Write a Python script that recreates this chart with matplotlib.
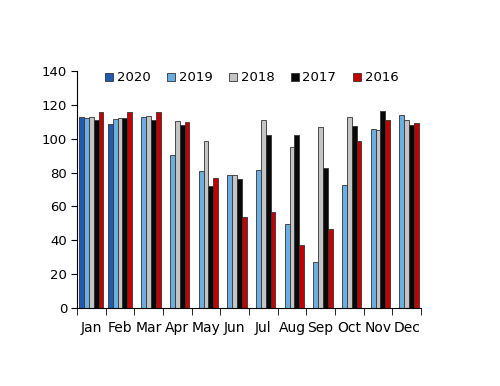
import matplotlib
matplotlib.use('Agg')
import matplotlib.pyplot as plt
import numpy as np

months = ['Jan', 'Feb', 'Mar', 'Apr', 'May', 'Jun', 'Jul', 'Aug', 'Sep', 'Oct', 'Nov', 'Dec']
years = ['2020', '2019', '2018', '2017', '2016']

v2020 = [113, 109, np.nan, np.nan, np.nan, np.nan, np.nan, np.nan, np.nan, np.nan, np.nan, np.nan]
v2019 = [112.4, 111.8, 113, 90.4, 81.2, 78.8, 81.8, 49.8, 27.2, 72.5, 105.8, 114.3]
v2018 = [113.1, 112.2, 113.4, 110.2, 98.9, 78.8, 111.2, 95.4, 107.2, 113, 105.2, 110.8]
v2017 = [111, 112.2, 111, 108.4, 71.9, 76, 102.1, 102.1, 82.5, 107.4, 116.1, 108.4]
v2016 = [115.5, 115.7, 115.7, 110, 76.8, 53.9, 56.9, 37.1, 46.4, 98.5, 111, 109.4]

series = [v2020, v2019, v2018, v2017, v2016]
colors = ['#1f5cb0', '#6aaee2', '#c4c4c4', '#080808', '#c40000']

plt.rcParams['font.family'] = 'DejaVu Sans'

fig = plt.figure(figsize=(5, 3.86), dpi=100)
ax = fig.add_axes([0.154, 0.202, 0.688, 0.614])

x = np.arange(len(months))
n = len(series)
bw = 0.168
for i, (vals, c, yr) in enumerate(zip(series, colors, years)):
    off = (i - (n - 1) / 2) * bw
    ax.bar(x + off, vals, width=bw, color=c, edgecolor='#333333', linewidth=0.6, label=yr)

ax.set_xlim(-0.5, len(months) - 0.5)
ax.set_ylim(0, 140)
ax.set_yticks(range(0, 141, 20))
ax.tick_params(axis='y', labelsize=9.5, direction='out', length=4, pad=3)

ax.set_xticks(x)
ax.set_xticklabels(months, fontsize=10)
ax.tick_params(axis='x', which='major', length=0, pad=9)
ax.set_xticks(np.arange(-0.5, len(months), 1), minor=True)
ax.tick_params(axis='x', which='minor', length=5, direction='out')

for s in ['top', 'right']:
    ax.spines[s].set_visible(False)

fig.legend(loc='center', bbox_to_anchor=(0.503, 0.798), ncol=5, frameon=False,
           fontsize=9.5, handlelength=0.6, handleheight=0.6, handletextpad=0.3,
           columnspacing=1.24, borderpad=0, borderaxespad=0)

fig.savefig('out.png', dpi=100)
